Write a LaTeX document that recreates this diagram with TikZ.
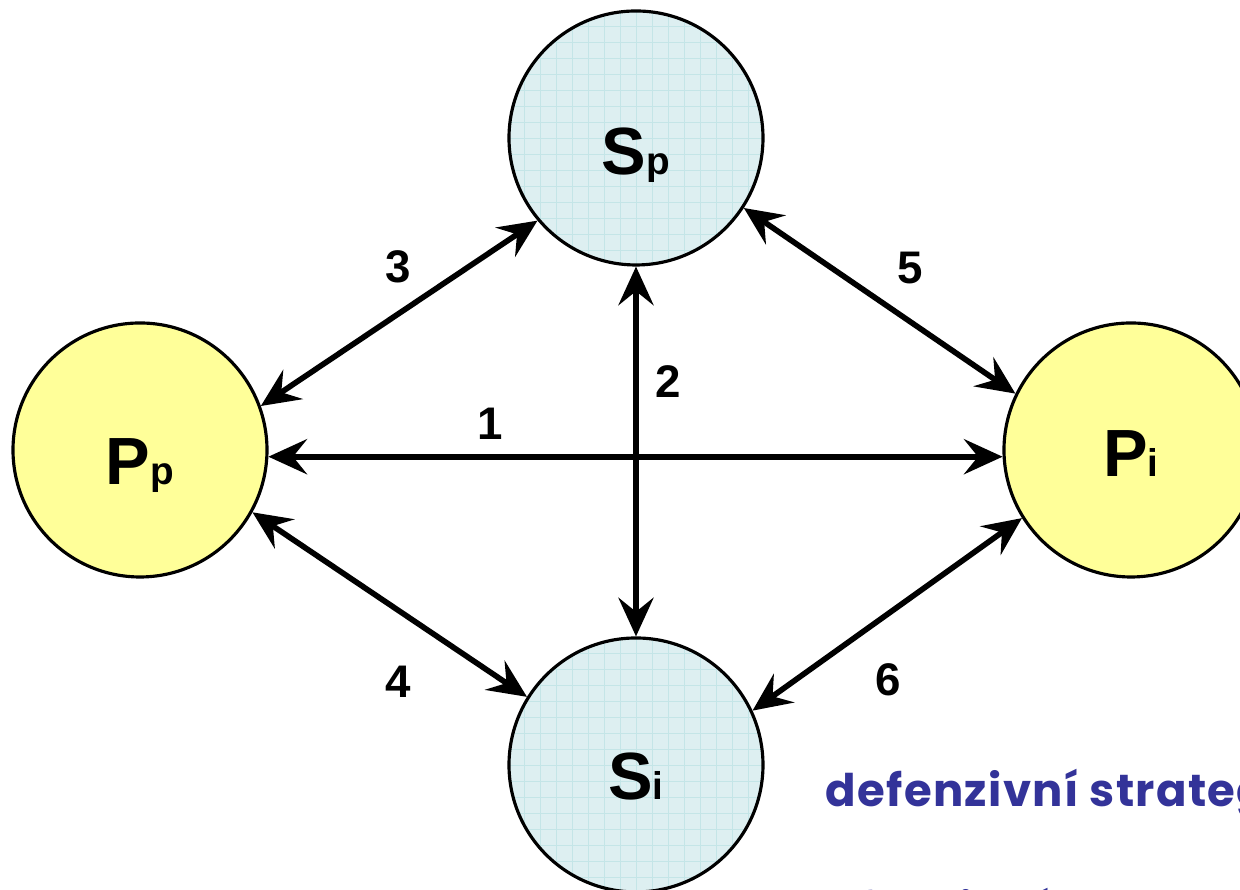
\documentclass[tikz,border=0pt]{standalone}
\usepackage{fontspec}
\setmainfont{Liberation Sans}
\newfontfamily\comicfont{Poppins}[LetterSpace=3]
\usetikzlibrary{arrows.meta}
\definecolor{nodeyellow}{HTML}{FFFF99}
\definecolor{nodeblue}{HTML}{DDEFF1}
\definecolor{gridblue}{HTML}{C4E5E7}
\definecolor{textblue}{HTML}{333399}
\tikzset{
  player/.style={circle, draw=black, line width=0.9pt, minimum size=2.54cm, inner sep=0pt, fill=nodeyellow},
  strategy/.style={player, fill=nodeblue,
    path picture={\draw[gridblue, line width=0.25pt] (path picture bounding box.south west) grid[step=0.16cm] (path picture bounding box.north east);}},
  title/.style={anchor=base, inner sep=0pt, font=\fontsize{19}{19}\selectfont\bfseries},
  num/.style={font=\fontsize{13}{13}\selectfont\bfseries},
  link/.style={{Stealth[length=11pt,width=10pt,inset=4pt]}-{Stealth[length=11pt,width=10pt,inset=4pt]}, line width=1.6pt},
  note/.style={anchor=base west, inner sep=0pt, text=textblue, font=\comicfont\fontsize{12.8}{12.8}\selectfont\bfseries},
}
\newcommand{\sm}[1]{{\fontsize{11}{11}\selectfont #1}}
\begin{document}
\begin{tikzpicture}
    \path[use as bounding box, clip] (0,0) rectangle (12.4,8.9);

    % players and strategies
    \node[strategy] (Sp) at (6.36,7.52) {};
    \node[player] (Pp) at (1.40,4.40) {};
    \node[player] (Pi) at (11.31,4.40) {};
    \node[strategy] (Si) at (6.36,1.25) {};

    \node[title] (Sptext) at ([yshift=-0.37cm]Sp.center) {S\sm{p}};
    \node[title] (Pptext) at ([yshift=-0.35cm]Pp.center) {P\sm{p}};
    \node[title] (Pitext) at ([yshift=-0.27cm]Pi.center) {P\sm{i}};
    \node[title] (Sitext) at ([yshift=-0.35cm]Si.center) {S\sm{i}};

    % relations
    \draw[link] (Pp.-3) -- (Pi.183);
    \draw[link] (Sp.south) -- (Si.north);
    \draw[link] (Pp.20) -- (Sp.220);
    \draw[link] (Pp.-29.5) -- (Si.148);
    \draw[link] (Sp.-33.6) -- (Pi.154.5);
    \draw[link] (Si.25.6) -- (Pi.212);

    \node[num] (n1) at (4.90,4.66) {1};
    \node[num] (n2) at (6.68,5.08) {2};
    \node[num] (n3) at (3.98,6.23) {3};
    \node[num] (n4) at (3.98,2.08) {4};
    \node[num] (n5) at (9.10,6.22) {5};
    \node[num] (n6) at (8.88,2.10) {6};

    \node[note] (defense) at (8.25,0.83) {defenzivní strategie};
    \node[note] (offense) at (8.27,-0.36) {ofenzivní strategie};
\end{tikzpicture}
\end{document}
